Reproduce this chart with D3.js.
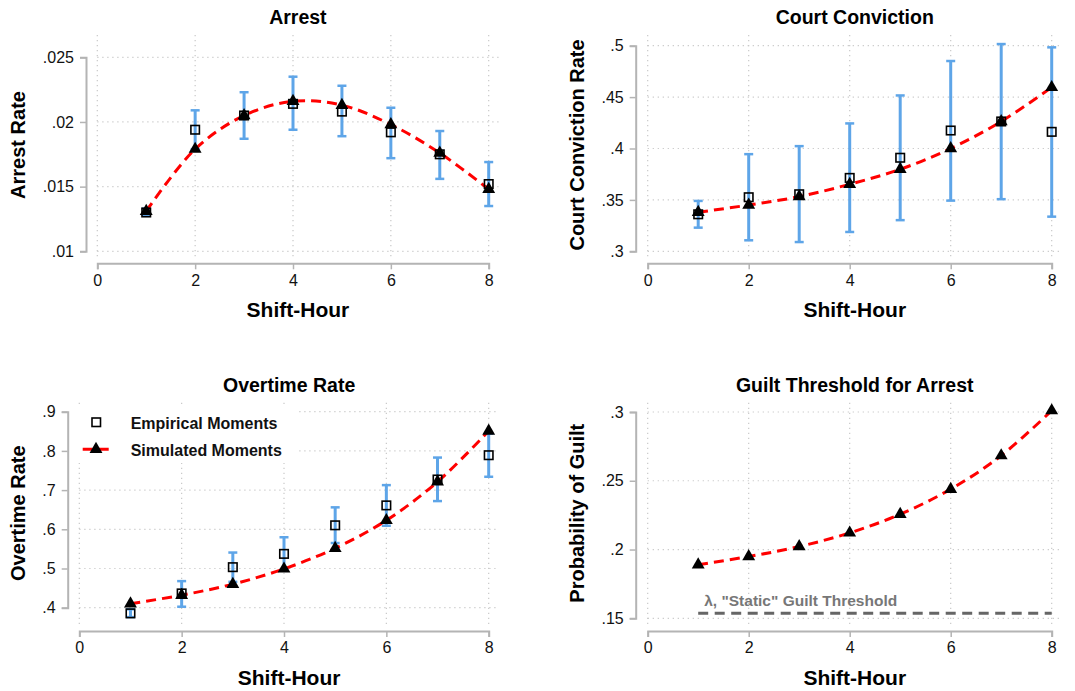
<!DOCTYPE html>
<html>
<head>
<meta charset="utf-8">
<script src="https://cdn.jsdelivr.net/npm/d3@7"></script>
<style>
  body { margin: 0; background: #fff; }
  svg { display: block; font-family: "Liberation Sans", Arial, Helvetica, sans-serif; }
</style>
</head>
<body>
<svg id="chart" width="1075" height="691"></svg>
<script>
// shift hours
var hours = [1, 2, 3, 4, 5, 6, 7, 8];

// Arrest
var arrestEmp = [0.0130, 0.0194, 0.0205, 0.0214, 0.0208, 0.0192, 0.0175, 0.0152];
var arrestLo  = [0.0128, 0.0179, 0.0187, 0.0194, 0.0189, 0.0172, 0.0156, 0.0135];
var arrestHi  = [0.0133, 0.0209, 0.0223, 0.0235, 0.0228, 0.0211, 0.0193, 0.0169];
var arrestSim = [0.0131, 0.0179, 0.0205, 0.0216, 0.0213, 0.0198, 0.0176, 0.0148];
var arrestTicks = [0.01, 0.015, 0.02, 0.025];

// Court conviction
var convEmp = [0.336, 0.3526, 0.3555, 0.3714, 0.391, 0.4175, 0.4263, 0.4162];
var convLo  = [0.323, 0.3107, 0.309, 0.3188, 0.3303, 0.3493, 0.3507, 0.3337];
var convHi  = [0.349, 0.3945, 0.4023, 0.4244, 0.4516, 0.4851, 0.5016, 0.4984];
var convSim = [0.338, 0.345, 0.3532, 0.3652, 0.3798, 0.400, 0.4263, 0.4595];
var convTicks = [0.3, 0.35, 0.4, 0.45, 0.5];

// Overtime
var otEmp = [0.3856, 0.4364, 0.5034, 0.5373, 0.6102, 0.661, 0.727, 0.789];
var otLo  = [0.376, 0.4025, 0.466, 0.495, 0.565, 0.609, 0.672, 0.734];
var otHi  = [0.396, 0.4678, 0.5407, 0.5797, 0.656, 0.7127, 0.783, 0.844];
var otSim = [0.410, 0.432, 0.460, 0.499, 0.5517, 0.6229, 0.7212, 0.8508];
var otTicks = [0.4, 0.5, 0.6, 0.7, 0.8, 0.9];

// Guilt threshold
var guiltSim = [0.189, 0.1949, 0.2022, 0.2121, 0.2257, 0.2439, 0.2683, 0.301];
var guiltStatic = 0.1536;
var guiltTicks = [0.15, 0.2, 0.25, 0.3];

var xTicks = [0, 2, 4, 6, 8];
var legendLabels = ["Empirical Moments", "Simulated Moments"];

var svg = d3.select("#chart");
var ciColor = "#5ea5e8";
var fmt = function(d) { return String(d).replace(/^0/, ""); };

var panels = [
  { title: "Arrest", ytitle: "Arrest Rate", ticks: arrestTicks,
    emp: arrestEmp, lo: arrestLo, hi: arrestHi, sim: arrestSim,
    x0: 97.3, x8: 488.7, yb: 251.3, yt: 57.3, top: 35, bottom: 258,
    axX: 86, axY: 263.3, ytX: 18.3 },
  { title: "Court Conviction", ytitle: "Court Conviction Rate", ticks: convTicks,
    emp: convEmp, lo: convLo, hi: convHi, sim: convSim,
    x0: 647.7, x8: 1051.7, yb: 251.3, yt: 45.7, top: 35, bottom: 258,
    axX: 635.7, axY: 263.3, ytX: 576.7 },
  { title: "Overtime Rate", ytitle: "Overtime Rate", ticks: otTicks,
    emp: otEmp, lo: otLo, hi: otHi, sim: otSim, legend: true,
    x0: 79.3, x8: 488.7, yb: 607.7, yt: 411.7, top: 402.7, bottom: 626.7,
    axX: 67.7, axY: 631, ytX: 18.3 },
  { title: "Guilt Threshold for Arrest", ytitle: "Probability of Guilt", ticks: guiltTicks,
    sim: guiltSim, staticLine: guiltStatic,
    x0: 647.7, x8: 1051.7, yb: 618.3, yt: 412, top: 402.7, bottom: 626.7,
    axX: 635.7, axY: 631, ytX: 576.7 }
];

function drawPanel(p) {
  var g = svg.append("g");
  var x = d3.scaleLinear().domain([0, 8]).range([p.x0, p.x8]);
  var y = d3.scaleLinear().domain([p.ticks[0], p.ticks[p.ticks.length - 1]]).range([p.yb, p.yt]);
  var xRight = x(8.2);

  // grid
  g.selectAll(".hg").data(p.ticks).enter().append("line")
    .attr("x1", x(0)).attr("x2", xRight)
    .attr("y1", function(d) { return y(d); }).attr("y2", function(d) { return y(d); })
    .attr("stroke", "#c8c8c8").attr("stroke-width", 1.2).attr("stroke-dasharray", "1.2,3.8");
  g.selectAll(".vg").data(xTicks).enter().append("line")
    .attr("x1", function(d) { return x(d); }).attr("x2", function(d) { return x(d); })
    .attr("y1", p.top).attr("y2", p.bottom)
    .attr("stroke", "#c8c8c8").attr("stroke-width", 1.2).attr("stroke-dasharray", "1.2,3.8");

  // axes
  var yAxis = g.append("g").attr("transform", "translate(" + p.axX + ",0)")
    .call(d3.axisLeft(y).tickValues(p.ticks).tickFormat(fmt).tickSizeOuter(0).tickSize(6).tickPadding(6));
  var xAxis = g.append("g").attr("transform", "translate(0," + p.axY + ")")
    .call(d3.axisBottom(x).tickValues(xTicks).tickSizeOuter(0).tickSize(6).tickPadding(5));
  [yAxis, xAxis].forEach(function(a) {
    a.select(".domain").attr("stroke", "#b4b4b4").attr("stroke-width", 2);
    a.selectAll(".tick line").attr("stroke", "#b4b4b4").attr("stroke-width", 1.5);
    a.selectAll(".tick text").attr("fill", "#111").attr("font-size", "16px");
  });

  // titles
  var cx = (x(0) + xRight) / 2;
  g.append("text").attr("x", cx).attr("y", p.top - 11)
    .attr("text-anchor", "middle").attr("font-weight", "bold").attr("font-size", "19.5px").text(p.title);
  g.append("text").attr("x", cx).attr("y", p.axY + 54)
    .attr("text-anchor", "middle").attr("font-weight", "bold").attr("font-size", "21px").text("Shift-Hour");
  g.append("text")
    .attr("transform", "translate(" + (p.ytX + 7) + "," + ((p.top + p.bottom) / 2 - 1.5) + ") rotate(-90)")
    .attr("text-anchor", "middle").attr("font-weight", "bold").attr("font-size", "20px").text(p.ytitle);

  // static threshold
  if (p.staticLine !== undefined) {
    g.append("line").attr("x1", x(1)).attr("x2", x(8))
      .attr("y1", y(p.staticLine)).attr("y2", y(p.staticLine))
      .attr("stroke", "#666").attr("stroke-width", 3).attr("stroke-dasharray", "10,6.5");
    g.append("text").attr("x", x(1) + 6).attr("y", y(p.staticLine) - 7)
      .attr("fill", "#777").attr("font-weight", "bold").attr("font-size", "15.5px")
      .text("\u03bb, \"Static\" Guilt Threshold");
  }

  // confidence intervals
  if (p.emp) {
    var ci = g.selectAll(".ci").data(hours).enter().append("g");
    ci.append("line")
      .attr("x1", function(d) { return x(d); }).attr("x2", function(d) { return x(d); })
      .attr("y1", function(d, i) { return y(p.lo[i]); }).attr("y2", function(d, i) { return y(p.hi[i]); })
      .attr("stroke", ciColor).attr("stroke-width", 3);
    ["lo", "hi"].forEach(function(k) {
      ci.append("line")
        .attr("x1", function(d) { return x(d) - 4.5; }).attr("x2", function(d) { return x(d) + 4.5; })
        .attr("y1", function(d, i) { return y(p[k][i]); }).attr("y2", function(d, i) { return y(p[k][i]); })
        .attr("stroke", ciColor).attr("stroke-width", 2.5);
    });
  }

  // simulated curve
  var line = d3.line().x(function(d) { return x(d[0]); }).y(function(d) { return y(d[1]); })
    .curve(d3.curveCatmullRom);
  g.append("path").datum(hours.map(function(h, i) { return [h, p.sim[i]]; }))
    .attr("d", line).attr("fill", "none").attr("stroke", "#ff0000")
    .attr("stroke-width", 3).attr("stroke-dasharray", "10,6");

  // empirical squares
  if (p.emp) {
    g.selectAll(".sq").data(hours).enter().append("rect")
      .attr("x", function(d) { return x(d) - 4.25; })
      .attr("y", function(d, i) { return y(p.emp[i]) - 4.25; })
      .attr("width", 8.5).attr("height", 8.5)
      .attr("fill", "none").attr("stroke", "#000").attr("stroke-width", 1.6);
  }

  // simulated triangles
  var tri = d3.symbol().type(d3.symbolTriangle).size(72);
  g.selectAll(".tri").data(hours).enter().append("path")
    .attr("d", tri)
    .attr("transform", function(d, i) { return "translate(" + x(d) + "," + y(p.sim[i]) + ")"; })
    .attr("fill", "#000");

  // legend
  if (p.legend) {
    var lg = g.append("g");
    lg.append("rect").attr("x", 75).attr("y", 406).attr("width", 223).attr("height", 57).attr("fill", "#fff");
    lg.append("rect").attr("x", 92).attr("y", 418).attr("width", 8.5).attr("height", 8.5)
      .attr("fill", "none").attr("stroke", "#000").attr("stroke-width", 1.6);
    lg.append("line").attr("x1", 82.7).attr("x2", 110).attr("y1", 449.3).attr("y2", 449.3)
      .attr("stroke", "#ff0000").attr("stroke-width", 3).attr("stroke-dasharray", "10,6");
    lg.append("path").attr("d", tri).attr("transform", "translate(96,449.3)").attr("fill", "#000");
    lg.selectAll(".lt").data(legendLabels).enter().append("text")
      .attr("x", 130.7).attr("y", function(d, i) { return 428.5 + i * 27; })
      .attr("font-weight", "bold").attr("font-size", "16px").attr("fill", "#111").text(function(d) { return d; });
  }
}

panels.forEach(drawPanel);
</script>
</body>
</html>
